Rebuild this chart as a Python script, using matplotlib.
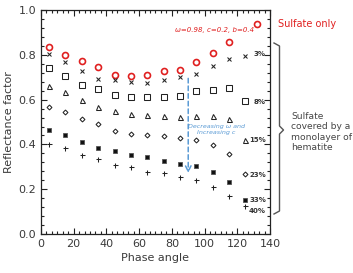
# Reflectance factor vs phase angle for sulfate covered by hematite

import numpy as np
import matplotlib.pyplot as plt
from matplotlib.ticker import MultipleLocator, AutoMinorLocator
from matplotlib.lines import Line2D

# Data
phase = [5, 15, 25, 35, 45, 55, 65, 75, 85, 95, 105, 115, 125]
sulfate_only = [0.836, 0.800, 0.773, 0.744, 0.708, 0.705, 0.711, 0.726, 0.733, 0.770, 0.808, 0.859]
cover_3 = [0.803, 0.770, 0.730, 0.690, 0.689, 0.679, 0.674, 0.687, 0.702, 0.714, 0.751, 0.781, 0.794]
cover_8 = [0.741, 0.705, 0.664, 0.649, 0.620, 0.613, 0.613, 0.613, 0.618, 0.640, 0.644, 0.652, 0.592]
cover_15 = [0.659, 0.632, 0.598, 0.566, 0.548, 0.538, 0.533, 0.526, 0.524, 0.526, 0.526, 0.512, 0.421]
cover_23 = [0.569, 0.545, 0.512, 0.493, 0.462, 0.447, 0.441, 0.439, 0.428, 0.418, 0.397, 0.359, 0.267]
cover_33 = [0.465, 0.440, 0.409, 0.385, 0.369, 0.352, 0.344, 0.327, 0.314, 0.302, 0.276, 0.233, 0.151]
cover_40 = [0.403, 0.384, 0.352, 0.336, 0.308, 0.298, 0.279, 0.271, 0.256, 0.243, 0.210, 0.170, 0.123]

pct_labels = ["3%", "8%", "15%", "23%", "33%", "40%"]
pct_y = [0.805, 0.591, 0.421, 0.262, 0.150, 0.103]

plt.rcParams["font.family"] = "DejaVu Sans"
txt = "#3a3a3a"

fig = plt.figure(figsize=(3.53, 2.73), dpi=100)
ax = fig.add_axes([0.116, 0.143, 0.649, 0.82])

ax.plot(phase[:len(sulfate_only)], sulfate_only, "o", ms=4.3, mfc="none",
        mec="#e02020", mew=1.2, ls="none")
ax.plot(phase, cover_3, "x", ms=3.2, mec="#222222", mew=0.75, ls="none")
ax.plot(phase, cover_8, "s", ms=3.7, mfc="none", mec="#222222", mew=0.75, ls="none")
ax.plot(phase, cover_15, "^", ms=3.6, mfc="none", mec="#222222", mew=0.75, ls="none")
ax.plot(phase, cover_23, "D", ms=2.5, mfc="none", mec="#222222", mew=0.75, ls="none")
ax.plot(phase, cover_33, "s", ms=3.1, mfc="#111111", mec="#555555", mew=0.6, ls="none")
ax.plot(phase, cover_40, "+", ms=3.6, mec="#222222", mew=0.75, ls="none")

ax.set_xlim(0, 140)
ax.set_ylim(0, 1.0)
ax.xaxis.set_major_locator(MultipleLocator(20))
ax.xaxis.set_minor_locator(AutoMinorLocator(6))
ax.yaxis.set_major_locator(MultipleLocator(0.2))
ax.yaxis.set_minor_locator(AutoMinorLocator(5))
ax.tick_params(which="both", direction="in", top=True, right=True,
               colors="#222222", labelcolor=txt, labelsize=8, width=0.8)
ax.tick_params(which="major", length=4)
ax.tick_params(which="minor", length=2)
ax.yaxis.set_major_formatter(plt.FormatStrFormatter("%.1f"))
for s in ax.spines.values():
    s.set_linewidth(0.9)
    s.set_color("#222222")

ax.set_xlabel("Phase angle", fontsize=8, color=txt, labelpad=3)
ax.set_ylabel("Reflectance factor", fontsize=8, color=txt, labelpad=3)

# coverage labels on the right edge
for lab, yv in zip(pct_labels, pct_y):
    ax.text(137.5, yv, lab, ha="right", va="center", fontsize=5,
            fontweight="bold", color="#333333")

# red parameter text
ax.text(106, 0.912, "ω=0.98, c=0.2, b=0.4", ha="center", va="center",
        fontsize=5, style="italic", color="#e02020")

# blue dashed arrow
ax.annotate("", xy=(90, 0.272), xytext=(90, 0.695),
            arrowprops=dict(arrowstyle="->", color="#5b9bd5", lw=1.1,
                            ls=(0, (3, 2)), shrinkA=0, shrinkB=0))
ax.text(107, 0.466, "Decreasing ω and\nIncreasing c", ha="center", va="center",
        fontsize=4.6, style="italic", color="#5b9bd5", linespacing=1.2)

# sulfate only legend
handle = Line2D([], [], marker="o", ms=4.3, mfc="none", mec="#e02020",
                mew=1.2, ls="none")
leg = fig.legend([handle], ["Sulfate only"], loc="center left",
                 bbox_to_anchor=(252 / 353, 1 - 24 / 273), frameon=False,
                 fontsize=7, handlelength=1.0, handletextpad=1.7,
                 borderpad=0, borderaxespad=0)
for t in leg.get_texts():
    t.set_color("#e02020")

# bracket
W, H = 353.0, 273.0
bx = [274, 279.5, 279.5, 283.5, 279.5, 279.5, 274]
by = [43, 46, 126, 130, 134, 211, 214]
fig.add_artist(Line2D([x / W for x in bx], [1 - y / H for y in by],
                      color="#555555", lw=1.0, transform=fig.transFigure))
fig.text(291 / W, 1 - 132 / H, "Sulfate\ncovered by a\nmonolayer of\nhematite",
         ha="left", va="center", fontsize=6.6, color="#444444", linespacing=1.15)

fig.savefig("out.png", dpi=100)
